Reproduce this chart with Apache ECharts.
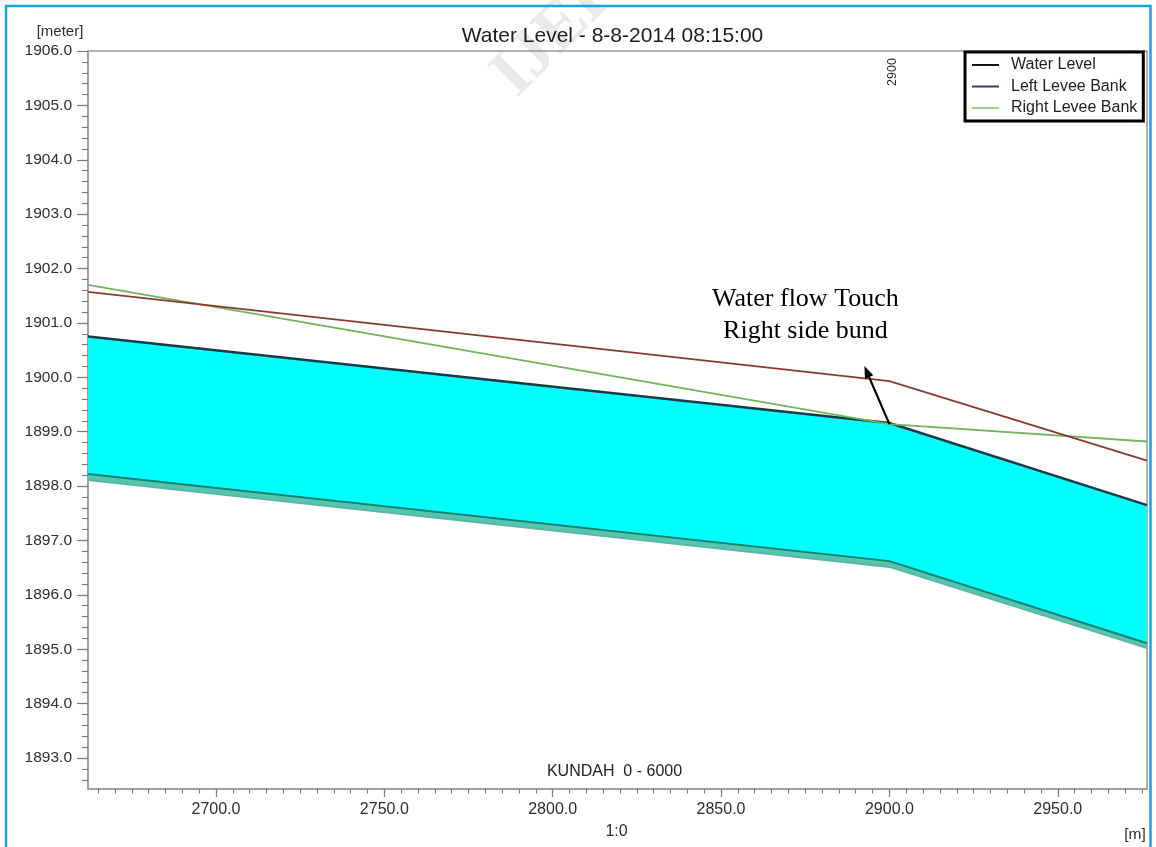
<!DOCTYPE html>
<html>
<head>
<meta charset="utf-8">
<script src="https://cdn.jsdelivr.net/npm/echarts@6/dist/echarts.min.js"></script>
<style>
  html, body { margin: 0; padding: 0; background: #ffffff; }
  #chart { width: 1156px; height: 847px; }
</style>
</head>
<body>
<div id="chart"></div>
<script>
// Longitudinal profile, KUNDAH branch, chainage in metres
const chainage       = [2662, 2900, 2976.5];
const waterLevel     = [1901.57, 1899.93, 1898.47];
const leftLeveeBank  = [1900.75, 1899.16, 1897.65];
const rightLeveeBank = [1901.70, 1899.14, 1898.82];
const bedTop         = [1898.22, 1896.62, 1895.11];
const bedBottom      = [1898.11, 1896.51, 1895.02];

// Axis labels
const xTickLabels = [2700, 2750, 2800, 2850, 2900, 2950];
const yTickLabels = [1893, 1894, 1895, 1896, 1897, 1898, 1899, 1900, 1901, 1902, 1903, 1904, 1905, 1906];
const xRange = [2662, 2976.5];
const yRange = [1892.43, 1906];
const sectionMarker = 2900;

const titleText = 'Water Level - 8-8-2014 08:15:00';
const branchText = 'KUNDAH  0 - 6000';
const noteLines = ['Water flow Touch', 'Right side bund'];

// Minor tick positions: every 5 m along x, every 0.2 m along y
const xMinor = [];
for (let k = 533; k * 5 < xRange[1]; k++) xMinor.push(k * 5);
const yMinor = [];
for (let k = 9463; k * 0.2 < yRange[1] - 1e-6; k++) yMinor.push(Math.round(k * 2) / 10);

const pairs = (ys) => chainage.map((x, i) => [x, ys[i]]);

const SANS = '"Liberation Sans", Arial, Helvetica, sans-serif';
const SERIF = '"Liberation Serif", "Times New Roman", serif';
const axisGrey = '#9a9a9a';
const tickGrey = '#7a7a7a';

const chart = echarts.init(document.getElementById('chart'), null, { renderer: 'canvas' });

const gridRect = { left: 88, top: 51, right: 9, bottom: 58 };

const lineSeries = (name, ys, color, width, z) => ({
  name, type: 'line', data: pairs(ys), symbol: 'none', showSymbol: false,
  lineStyle: { color, width }, itemStyle: { color }, z, silent: true,
  emphasis: { disabled: true }
});

// Filled band between an upper and a lower profile, drawn through the axis scales
const bandSeries = (name, upper, lower, fill) => ({
  name, type: 'custom', data: [0], z: 1, silent: true,
  clip: true,
  renderItem: (params, api) => {
    const pts = [];
    chainage.forEach((x, i) => pts.push(api.coord([x, upper[i]])));
    for (let i = chainage.length - 1; i >= 0; i--) pts.push(api.coord([chainage[i], lower[i]]));
    return { type: 'polygon', shape: { points: pts }, style: { fill: fill, stroke: null } };
  }
});

chart.setOption({
  animation: false,
  backgroundColor: '#ffffff',
  grid: [
    Object.assign({ show: true, borderColor: axisGrey, borderWidth: 1.5, backgroundColor: 'transparent', containLabel: false, outerBoundsMode: 'none' }, gridRect),
    Object.assign({ show: false, containLabel: false, outerBoundsMode: 'none' }, gridRect)
  ],
  xAxis: [
    {
      type: 'value', gridIndex: 0, min: xRange[0], max: xRange[1],
      axisLine: { show: true, onZero: false, lineStyle: { color: axisGrey, width: 1.5 } },
      axisTick: { show: true, customValues: xTickLabels, length: 8, lineStyle: { color: tickGrey, width: 1.2 } },
      axisLabel: {
        customValues: xTickLabels, formatter: (v) => Number(v).toFixed(1),
        fontSize: 16, fontFamily: SANS, color: '#2e2e2e', margin: 13
      },
      splitLine: { show: false }
    },
    {
      type: 'value', gridIndex: 1, min: xRange[0], max: xRange[1],
      axisLine: { show: false },
      axisTick: { show: true, customValues: xMinor, length: 4.5, lineStyle: { color: tickGrey, width: 1.1 } },
      axisLabel: { show: false },
      splitLine: { show: false }
    }
  ],
  yAxis: [
    {
      type: 'value', gridIndex: 0, min: yRange[0], max: yRange[1],
      axisLine: { show: true, onZero: false, lineStyle: { color: axisGrey, width: 1.5 } },
      axisTick: { show: true, customValues: yTickLabels, length: 11, lineStyle: { color: tickGrey, width: 1.2 } },
      axisLabel: {
        customValues: yTickLabels, formatter: (v) => Number(v).toFixed(1),
        fontSize: 15.5, fontFamily: SANS, color: '#2e2e2e', margin: 16
      },
      splitLine: { show: false }
    },
    {
      type: 'value', gridIndex: 1, min: yRange[0], max: yRange[1],
      axisLine: { show: false },
      axisTick: { show: true, customValues: yMinor, length: 6, lineStyle: { color: tickGrey, width: 1.1 } },
      axisLabel: { show: false },
      splitLine: { show: false }
    }
  ],
  legend: {
    orient: 'vertical', left: 965, top: 52,
    padding: [5, 6, 5, 7], itemGap: 5.5, itemWidth: 27, itemHeight: 2,
    backgroundColor: '#ffffff', borderColor: '#000000', borderWidth: 3, borderRadius: 0,
    textStyle: { fontSize: 16, fontFamily: SANS, color: '#1e1e1e', padding: [0, 0, 0, 7] },
    selectedMode: false,
    data: [
      { name: 'Water Level', icon: 'rect', itemStyle: { color: '#151515' } },
      { name: 'Left Levee Bank', icon: 'rect', itemStyle: { color: '#2f3f6e' } },
      { name: 'Right Levee Bank', icon: 'rect', itemStyle: { color: '#98d68f' } }
    ]
  },
  series: [
    // channel section between bed and left levee
    bandSeries('bedBand', bedTop, bedBottom, '#52c6b1'),
    bandSeries('channel', leftLeveeBank, bedTop, '#00ffff'),
    lineSeries('bedBottomLine', bedBottom, '#5fb3a2', 1.6, 3),
    lineSeries('bedTopLine', bedTop, '#17806f', 2, 4),
    lineSeries('Left Levee Bank', leftLeveeBank, '#173a46', 2.4, 5),
    lineSeries('Right Levee Bank', rightLeveeBank, '#73b45c', 1.8, 6),
    lineSeries('Water Level', waterLevel, '#8a3b31', 1.8, 7)
  ]
});

// Text and annotation placed from data coordinates
const toPx = (x, y) => chart.convertToPixel({ gridIndex: 0 }, [x, y]);
const touchIdx = chainage.indexOf(sectionMarker);
const tail = toPx(sectionMarker, rightLeveeBank[touchIdx]);
const head = [tail[0] - 25, tail[1] - 58];
const dx = head[0] - tail[0], dy = head[1] - tail[1];
const len = Math.hypot(dx, dy);
const ux = dx / len, uy = dy / len;
const baseC = [head[0] - ux * 12, head[1] - uy * 12];
const arrowHead = [
  head,
  [baseC[0] + uy * 4.5, baseC[1] - ux * 4.5],
  [baseC[0] - uy * 4.5, baseC[1] + ux * 4.5]
];
const markerX = toPx(sectionMarker, yRange[1])[0];
const plotTop = gridRect.top;
const plotBottom = 847 - gridRect.bottom;
const plotMidX = (gridRect.left + (1156 - gridRect.right)) / 2;

chart.setOption({
  graphic: [
    {
      type: 'rect', silent: true, z: 100,
      shape: { x: 6, y: 6, width: 1144.5, height: 846 },
      style: { fill: 'none', stroke: '#1aa1e4', lineWidth: 2.5 }
    },
    {
      type: 'text', silent: true, z: 0, x: 528, y: 110, rotation: Math.PI / 4,
      style: { text: 'IJERT', font: 'bold 68px ' + SERIF, fill: 'rgba(150,150,150,0.2)', textAlign: 'left', textVerticalAlign: 'bottom' }
    },
    {
      type: 'text', silent: true, z: 50, x: plotMidX - 5, y: 36,
      style: { text: titleText, font: '21px ' + SANS, fill: '#1c1c1c', textAlign: 'center', textVerticalAlign: 'middle' }
    },
    {
      type: 'text', silent: true, z: 50, x: 60, y: 32,
      style: { text: '[meter]', font: '15px ' + SANS, fill: '#2e2e2e', textAlign: 'center', textVerticalAlign: 'middle' }
    },
    {
      type: 'text', silent: true, z: 50, x: markerX + 3.5, y: plotTop + 21, rotation: Math.PI / 2,
      style: { text: String(sectionMarker), font: '12.5px ' + SANS, fill: '#2a2a2a', textAlign: 'center', textVerticalAlign: 'middle' }
    },
    {
      type: 'text', silent: true, z: 50, x: plotMidX - 3, y: plotBottom - 17,
      style: { text: branchText, font: '16px ' + SANS, fill: '#222222', textAlign: 'center', textVerticalAlign: 'middle' }
    },
    {
      type: 'text', silent: true, z: 50, x: plotMidX - 1, y: plotBottom + 43,
      style: { text: '1:0', font: '16px ' + SANS, fill: '#2e2e2e', textAlign: 'center', textVerticalAlign: 'middle' }
    },
    {
      type: 'text', silent: true, z: 50, x: 1135, y: plotBottom + 46,
      style: { text: '[m]', font: '15.5px ' + SANS, fill: '#2e2e2e', textAlign: 'center', textVerticalAlign: 'middle' }
    },
    {
      type: 'line', silent: true, z: 60,
      shape: { x1: tail[0], y1: tail[1], x2: baseC[0], y2: baseC[1] },
      style: { stroke: '#000000', lineWidth: 2.2 }
    },
    {
      type: 'polygon', silent: true, z: 60,
      shape: { points: arrowHead },
      style: { fill: '#000000' }
    },
    {
      type: 'text', silent: true, z: 60, x: tail[0] - 84, y: tail[1] - 125,
      style: { text: noteLines[0], font: '26px ' + SERIF, fill: '#000000', textAlign: 'center', textVerticalAlign: 'middle' }
    },
    {
      type: 'text', silent: true, z: 60, x: tail[0] - 84, y: tail[1] - 93,
      style: { text: noteLines[1], font: '26px ' + SERIF, fill: '#000000', textAlign: 'center', textVerticalAlign: 'middle' }
    }
  ]
});
</script>
</body>
</html>
